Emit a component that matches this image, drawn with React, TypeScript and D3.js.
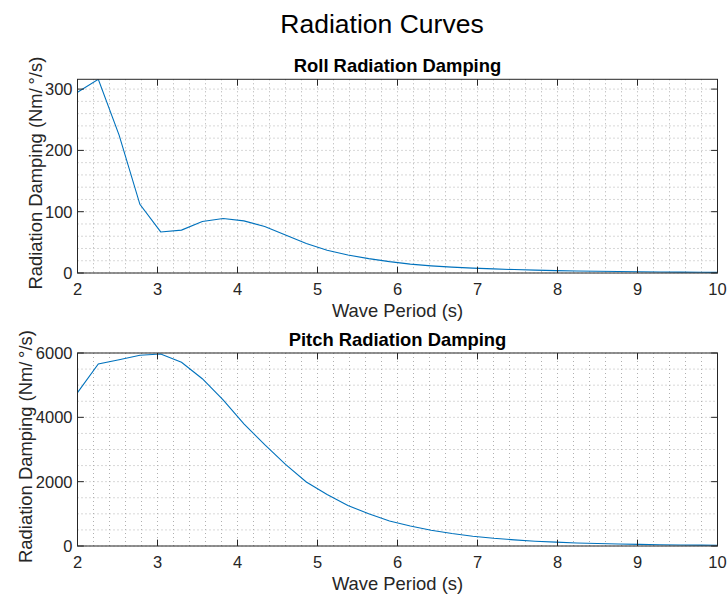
import React from "react";
import * as d3 from "d3";

const periods = [2, 2.26, 2.52, 2.78, 3.04, 3.3, 3.56, 3.82, 4.08, 4.34, 4.6, 4.86, 5.12, 5.38, 5.64, 5.9, 6.16, 6.42, 6.68, 6.94, 7.2, 7.46, 7.72, 7.98, 8.24, 8.5, 8.76, 9.02, 9.28, 9.54, 9.8, 10];
const rollDamping = [295, 316, 225, 112, 67, 70, 84, 89, 85, 76, 62, 48, 37, 29.5, 23.5, 18.5, 14.5, 11.7, 9.6, 8.0, 6.7, 5.6, 4.7, 3.9, 3.3, 2.8, 2.4, 2.0, 1.7, 1.5, 1.3, 1.1];
const pitchDamping = [4770, 5660, 5790, 5930, 5970, 5710, 5200, 4540, 3800, 3150, 2540, 1990, 1600, 1260, 1000, 780, 620, 490, 390, 305, 240, 190, 150, 120, 95, 76, 61, 49, 40, 32, 26, 22];

const xTicks = [2, 3, 4, 5, 6, 7, 8, 9, 10];
const rollTicks = [0, 100, 200, 300];
const pitchTicks = [0, 2000, 4000, 6000];

const FONT = "'Liberation Sans', Arial, Helvetica, sans-serif";
const W = 728;
const H = 596;
const LEFT = 77.5;
const RIGHT = 717.5;
const AX_COLOR = "#262626";
const LINE_COLOR = "#0072BD";
const GRID_COLOR = "#b0b0b0";

type PanelProps = {
  id: string;
  top: number;
  bottom: number;
  title: string;
  values: number[];
  yMax: number;
  yTicks: number[];
  yMinorStep: number;
  yLabelX: number;
};

function Panel({ id, top, bottom, title, values, yMax, yTicks, yMinorStep, yLabelX }: PanelProps) {
  const x = d3.scaleLinear().domain([2, 10]).range([LEFT, RIGHT]);
  const y = d3.scaleLinear().domain([0, yMax]).range([bottom, top]);
  const xMinor = d3.range(2, 10.0001, 0.2);
  const yMinor = d3.range(0, yMax + 1e-9, yMinorStep);
  const line = d3
    .line<number>()
    .x((_, i) => x(periods[i]))
    .y((v) => y(v));
  const tickLen = 6.4;
  const cx = (LEFT + RIGHT) / 2;
  const cy = (top + bottom) / 2;
  return (
    <g>
      <defs>
        <clipPath id={id}>
          <rect x={LEFT} y={top} width={RIGHT - LEFT} height={bottom - top} />
        </clipPath>
      </defs>
      <rect x={LEFT} y={top} width={RIGHT - LEFT} height={bottom - top} fill="#fff" />
      {xMinor.map((t, i) => (
        <line key={"xg" + i} x1={x(t)} x2={x(t)} y1={top} y2={bottom} stroke={GRID_COLOR} strokeWidth={1} strokeDasharray="1,3" />
      ))}
      {yMinor.map((t, i) => (
        <line key={"yg" + i} x1={LEFT} x2={RIGHT} y1={y(t)} y2={y(t)} stroke={GRID_COLOR} strokeWidth={1} strokeDasharray="1,3" />
      ))}
      <path d={line(values) || ""} fill="none" stroke={LINE_COLOR} strokeWidth={1.1} clipPath={`url(#${id})`} />
      <rect x={LEFT} y={top} width={RIGHT - LEFT} height={bottom - top} fill="none" stroke={AX_COLOR} strokeWidth={1} />
      {xTicks.map((t) => (
        <g key={"xt" + t}>
          <line x1={x(t)} x2={x(t)} y1={bottom} y2={bottom - tickLen} stroke={AX_COLOR} />
          <line x1={x(t)} x2={x(t)} y1={top} y2={top + tickLen} stroke={AX_COLOR} />
          <text x={x(t)} y={bottom + 22} textAnchor="middle" fontSize={16.5} fill={AX_COLOR} fontFamily={FONT}>
            {t}
          </text>
        </g>
      ))}
      {yTicks.map((t) => (
        <g key={"yt" + t}>
          <line x1={LEFT} x2={LEFT + tickLen} y1={y(t)} y2={y(t)} stroke={AX_COLOR} />
          <line x1={RIGHT} x2={RIGHT - tickLen} y1={y(t)} y2={y(t)} stroke={AX_COLOR} />
          <text x={LEFT - 5} y={y(t) + 6} textAnchor="end" fontSize={16.5} fill={AX_COLOR} fontFamily={FONT}>
            {t}
          </text>
        </g>
      ))}
      <text x={cx} y={top - 7.5} textAnchor="middle" fontSize={18.4} fontWeight="bold" fill="#000" fontFamily={FONT}>
        {title}
      </text>
      <text x={cx} y={bottom + 44} textAnchor="middle" fontSize={18.4} fill={AX_COLOR} fontFamily={FONT}>
        Wave Period (s)
      </text>
      <text
        transform={`translate(${yLabelX},${cy - 3}) rotate(-90)`}
        textAnchor="middle"
        fontSize={18.4}
        fill={AX_COLOR}
        fontFamily={FONT}
      >
        Radiation Damping (Nm/{"\u2009"}°/s)
      </text>
    </g>
  );
}

export default function App() {
  const rollMax = d3.max(rollDamping) as number;
  return (
    <svg width={W} height={H} style={{ position: "absolute", left: 0, top: 0, background: "#fff" }}>
      <rect x={0} y={0} width={W} height={H} fill="#fff" />
      <text x={382} y={33} textAnchor="middle" fontSize={26.5} fill="#000" fontFamily={FONT}>
        Radiation Curves
      </text>
      <Panel
        id="clipRoll"
        top={79.3}
        bottom={273}
        title="Roll Radiation Damping"
        values={rollDamping}
        yMax={rollMax}
        yTicks={rollTicks}
        yMinorStep={20}
        yLabelX={41.5}
      />
      <Panel
        id="clipPitch"
        top={353}
        bottom={546}
        title="Pitch Radiation Damping"
        values={pitchDamping}
        yMax={6000}
        yTicks={pitchTicks}
        yMinorStep={500}
        yLabelX={31.5}
      />
    </svg>
  );
}
